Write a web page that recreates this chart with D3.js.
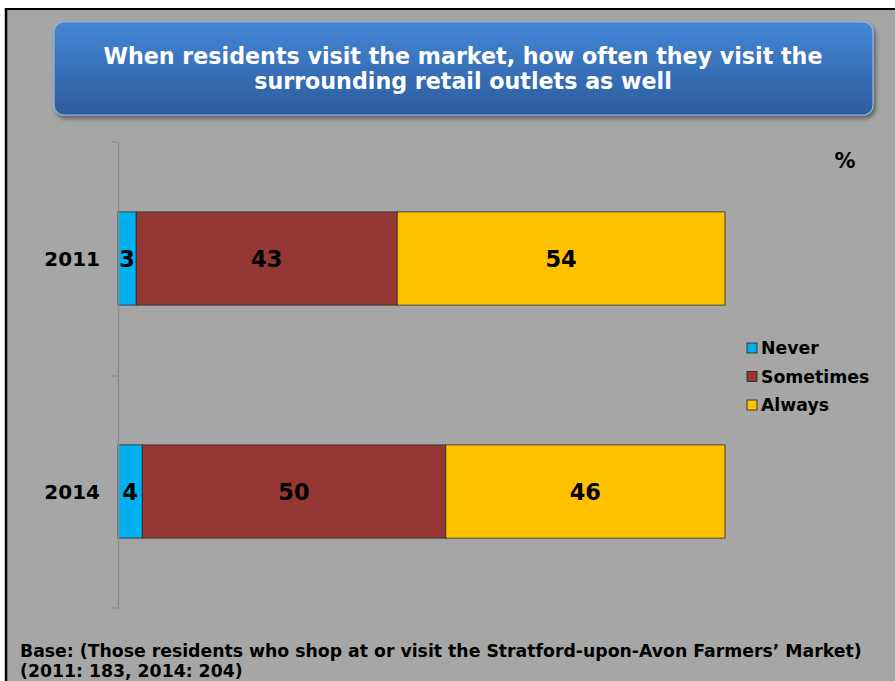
<!DOCTYPE html>
<html><head><meta charset="utf-8">
<script src="https://cdn.jsdelivr.net/npm/d3@7"></script>
<style>body{margin:0;background:#fff;}svg{display:block;}</style>
</head><body>
<script>
const categories = ["2011", "2014"];
const seriesNames = ["Never", "Sometimes", "Always"];
const never = [3, 4];
const sometimes = [43, 50];
const always = [54, 46];
const colors = ["#00b0f0", "#953735", "#ffc000"];
const titleLines = ["When residents visit the market, how often they visit the", "surrounding retail outlets as well"];
const footLines = ["Base: (Those residents who shop at or visit the Stratford-upon-Avon Farmers\u2019 Market)", "(2011: 183, 2014: 204)"];

const W = 895, H = 681;
const font = "'DejaVu Sans', Verdana, sans-serif";
const svg = d3.select("body").append("svg").attr("width", W).attr("height", H);

// background frame
svg.append("rect").attr("x", 6).attr("y", 9).attr("width", W).attr("height", H).attr("fill", "#a6a6a6");
svg.append("line").attr("x1", 5).attr("x2", W).attr("y1", 9).attr("y2", 9).attr("stroke", "#000").attr("stroke-width", 2);
svg.append("line").attr("x1", 6).attr("x2", 6).attr("y1", 8).attr("y2", H).attr("stroke", "#000").attr("stroke-width", 2.5);

// title box
const defs = svg.append("defs");
const g = defs.append("linearGradient").attr("id", "tg").attr("x1", 0).attr("x2", 0).attr("y1", 0).attr("y2", 1);
g.append("stop").attr("offset", "0%").attr("stop-color", "#4586d6");
g.append("stop").attr("offset", "100%").attr("stop-color", "#2c5c9c");
const f = defs.append("filter").attr("id", "sh").attr("x", "-5%").attr("y", "-10%").attr("width", "110%").attr("height", "130%");
f.append("feDropShadow").attr("dx", 2).attr("dy", 3).attr("stdDeviation", 2).attr("flood-color", "#000").attr("flood-opacity", 0.45);
svg.append("rect").attr("x", 54).attr("y", 22).attr("width", 819).attr("height", 93).attr("rx", 10)
  .attr("fill", "url(#tg)").attr("stroke", "#8fb4e6").attr("stroke-width", 1.2).attr("filter", "url(#sh)");
svg.append("g").selectAll("text").data(titleLines).join("text")
  .attr("x", 463).attr("y", (d, i) => 64 + i * 25).attr("text-anchor", "middle")
  .attr("fill", "#fff").attr("font-family", font).attr("font-weight", "bold").attr("font-size", 22.2).text(d => d);

// chart
const x = d3.scaleLinear().domain([0, 100]).range([118, 725]);
const y = d3.scaleBand().domain(categories).range([142, 608]).paddingInner(0).paddingOuter(0);
const barH = y.bandwidth() * 0.4;

const data = categories.map((c, i) => {
  const vals = [never[i], sometimes[i], always[i]];
  let acc = 0;
  return vals.map((v, k) => { const s = acc; acc += v; return {cat: c, k, v, x0: s, x1: acc}; });
});

const bars = svg.append("g");
data.forEach(row => {
  bars.selectAll(null).data(row).join("rect")
    .attr("x", d => x(d.x0)).attr("width", d => x(d.x1) - x(d.x0))
    .attr("y", d => y(d.cat) + (y.bandwidth() - barH) / 2).attr("height", barH)
    .attr("fill", d => colors[d.k]).attr("stroke", "#2a2a2a").attr("stroke-width", 0.8);
  bars.selectAll(null).data(row).join("text")
    .attr("x", d => (x(d.x0) + x(d.x1)) / 2).attr("y", d => y(d.cat) + y.bandwidth() / 2 + 8)
    .attr("text-anchor", "middle").attr("font-family", font).attr("font-weight", "bold").attr("font-size", 22.5)
    .attr("fill", "#000").text(d => d.v);
});

// axis
const ax = svg.append("g").attr("transform", "translate(118,0)")
  .call(d3.axisLeft(y).tickSize(0).tickPadding(18).tickSizeOuter(0));
ax.select(".domain").attr("stroke", "#8c8c8c").attr("stroke-width", 1.2);
ax.selectAll("text").attr("font-family", font).attr("font-weight", "bold").attr("font-size", 20).attr("fill", "#000").attr("dy", "0.35em");
// boundary ticks
ax.selectAll(".bt").data([142, 376, 608]).join("line").attr("class", "bt")
  .attr("x1", -6).attr("x2", 0).attr("y1", d => d).attr("y2", d => d).attr("stroke", "#8c8c8c").attr("stroke-width", 1.2);

// percent
svg.append("text").attr("x", 845).attr("y", 168).attr("text-anchor", "middle")
  .attr("font-family", font).attr("font-weight", "bold").attr("font-size", 21).text("%");

// legend
const lg = svg.append("g");
seriesNames.forEach((n, i) => {
  const yy = 348 + i * 28.5;
  lg.append("rect").attr("x", 747).attr("y", yy - 5).attr("width", 10).attr("height", 10)
    .attr("fill", colors[i]).attr("stroke", "#222").attr("stroke-width", 0.8);
  lg.append("text").attr("x", 761).attr("y", yy + 6).attr("font-family", font).attr("font-weight", "bold")
    .attr("font-size", 17.3).text(n);
});

// footer
svg.append("g").selectAll("text").data(footLines).join("text")
  .attr("x", 20).attr("y", (d, i) => 657 + i * 20).attr("font-family", font).attr("font-weight", "bold")
  .attr("font-size", 17.3).attr("fill", "#000").text(d => d);
</script>
</body></html>
